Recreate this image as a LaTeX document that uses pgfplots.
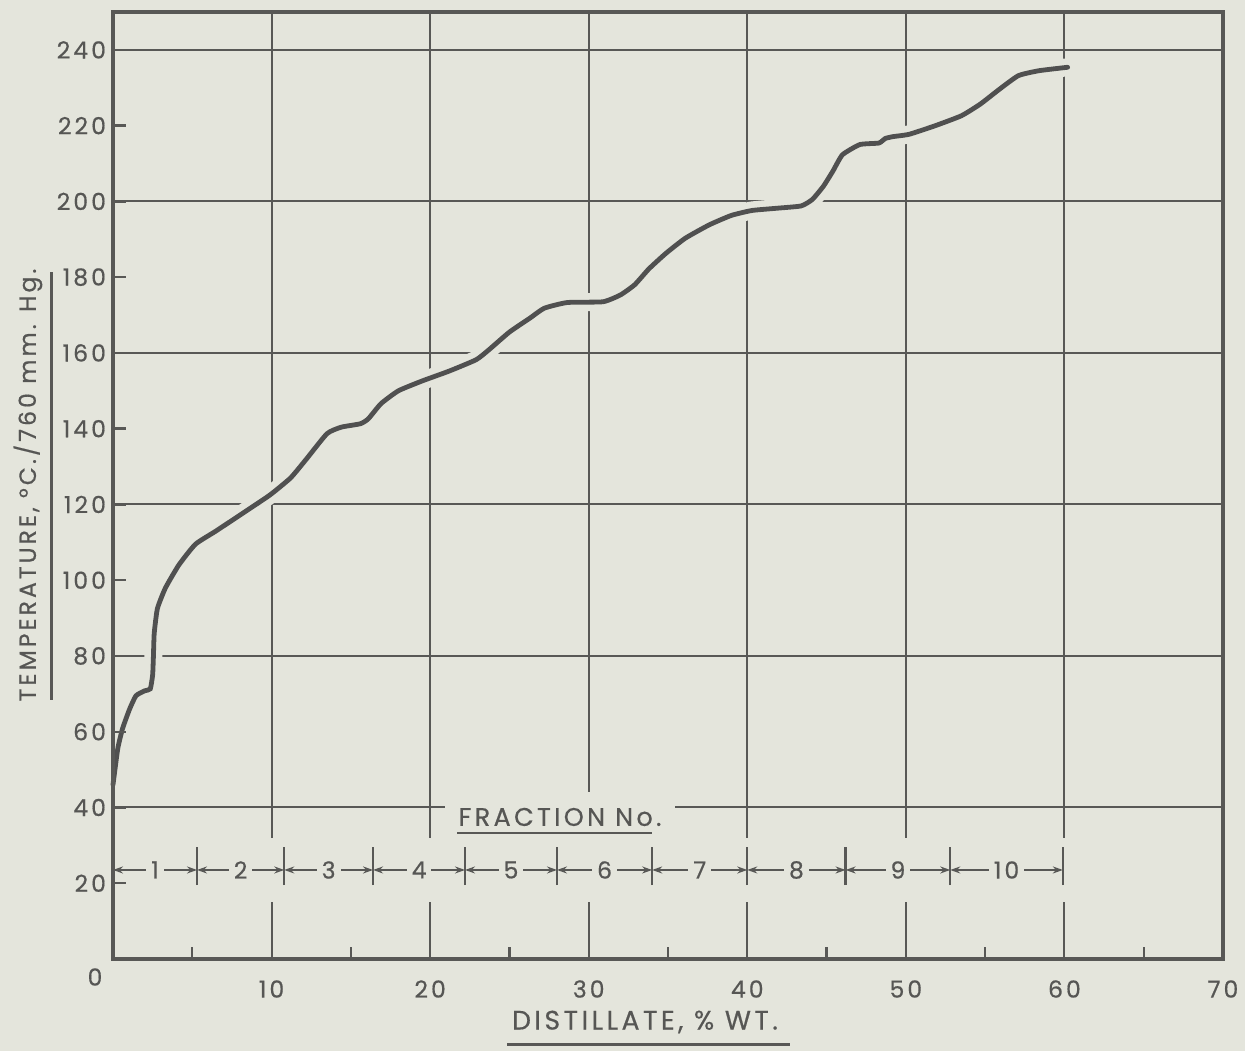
\documentclass[border=0pt]{standalone}
\usepackage{fontspec}
\setmainfont{Poppins}[LetterSpace=13, FakeBold=0.5]
\usepackage{pgfplots}
\usepackage{pgfplotstable}
\pgfplotsset{compat=1.18}
\usetikzlibrary{arrows.meta}
\definecolor{paper}{RGB}{228,229,220}
\definecolor{ink}{RGB}{88,88,86}
\definecolor{curveink}{RGB}{80,80,80}
\definecolor{txt}{RGB}{86,86,84}

\pgfplotstableread{
x y
0 46
0.3 55.5
0.6 60.8
1.05 66
1.45 69.5
2.0 70.8
2.35 71.3
2.5 75
2.55 80
2.6 86
2.8 92.5
3.3 97.9
4.15 104
5.2 109.5
6.5 113
8.3 118
9.9 122.5
11.2 127
12.2 132
13.5 138.7
14.4 140.4
15.6 141.3
16.1 142.6
16.9 146.6
18.0 150
19.5 152.6
21.2 155.2
22.9 158.2
23.7 160.8
25.0 165.5
26.3 169.2
27.2 171.8
28.65 173.3
30.9 173.5
32.0 175.3
32.9 178.0
33.8 182.2
34.9 186.4
36.1 190.3
37.6 193.8
39.0 196.3
40.3 197.6
41.9 198.2
43.4 198.8
44.1 200.5
44.8 204
45.4 208
46.0 212.3
47.1 215
48.3 215.4
48.7 216.6
49.2 217.1
50.2 217.7
51.8 219.9
53.5 222.6
54.7 225.7
55.9 229.6
57.1 233.2
58.4 234.5
60.2 235.4
}\curvedata

\tikzset{
  lab/.style={text=txt, font=\fontsize{11.8}{13}\selectfont},
  arr/.style={ink, line width=1bp, {Stealth[length=5bp,width=3.5bp]}-{Stealth[length=5bp,width=3.5bp]}},
  seg/.style={midway, fill=paper, inner xsep=2.5bp, inner ysep=1bp, lab},
  bnd/.style={ink, line width=1.2bp},
  grd/.style={ink, line width=1bp},
}

\begin{document}
\begin{tikzpicture}[x=1bp,y=1bp]
\fill[paper] (-56.5,-46) rectangle (566,479.5);
\begin{axis}[
  at={(0,0)}, anchor=south west,
  width=555bp, height=473.5bp, scale only axis,
  xmin=0, xmax=70, ymin=0, ymax=250,
  axis on top,
  axis line style={ink, line width=1.8bp},
  xtick={10,20,...,70},
  minor xtick={5,15,...,65},
  ytick={20,40,...,240},
  tick pos=left, tick align=inside,
  major tick length=6.5bp, minor tick length=6bp,
  major x tick style={draw=none},
  tick style={ink, line width=1.2bp},
  tick label style={lab},
  /pgf/number format/assume math mode=true,
  xticklabel style={anchor=center, yshift=-15bp},
  clip=false,
]
% horizontal grid
\pgfplotsinvokeforeach{40,80,120,160,200,240}{
  \addplot[grd, forget plot] coordinates {(0,#1) (70,#1)};
}
% vertical grid with gaps
\pgfplotsinvokeforeach{10,20,40,50,60}{
  \addplot[grd, forget plot] coordinates {(#1,250) (#1,32)};
  \addplot[grd, forget plot] coordinates {(#1,15) (#1,0)};
}
\addplot[grd, forget plot] coordinates {(30,250) (30,44)};
\addplot[grd, forget plot] coordinates {(30,15) (30,0)};

% fraction row
\draw[arr] (axis cs:0,23.5) -- (axis cs:5.3,23.5) node[seg] {1};
\draw[arr] (axis cs:5.3,23.5) -- (axis cs:10.8,23.5) node[seg] {2};
\draw[arr] (axis cs:10.8,23.5) -- (axis cs:16.4,23.5) node[seg] {3};
\draw[arr] (axis cs:16.4,23.5) -- (axis cs:22.2,23.5) node[seg] {4};
\draw[arr] (axis cs:22.2,23.5) -- (axis cs:28.0,23.5) node[seg] {5};
\draw[arr] (axis cs:28.0,23.5) -- (axis cs:34.0,23.5) node[seg] {6};
\draw[arr] (axis cs:34.0,23.5) -- (axis cs:40.0,23.5) node[seg] {7};
\draw[arr] (axis cs:40.0,23.5) -- (axis cs:46.2,23.5) node[seg] {8};
\draw[arr] (axis cs:46.2,23.5) -- (axis cs:52.8,23.5) node[seg] {9};
\draw[arr] (axis cs:52.8,23.5) -- (axis cs:59.9,23.5) node[seg] {10};
\draw[bnd] (axis cs:5.3,19.5) -- (axis cs:5.3,29.5);
\draw[bnd] (axis cs:10.8,19.5) -- (axis cs:10.8,29.5);
\draw[bnd] (axis cs:16.4,19.5) -- (axis cs:16.4,29.5);
\draw[bnd] (axis cs:22.2,19.5) -- (axis cs:22.2,29.5);
\draw[bnd] (axis cs:28.0,19.5) -- (axis cs:28.0,29.5);
\draw[bnd] (axis cs:34.0,19.5) -- (axis cs:34.0,29.5);
\draw[bnd] (axis cs:40.0,19.5) -- (axis cs:40.0,29.5);
\draw[bnd] (axis cs:46.2,19.5) -- (axis cs:46.2,29.5);
\draw[bnd] (axis cs:52.8,19.5) -- (axis cs:52.8,29.5);
\draw[bnd] (axis cs:59.9,19.5) -- (axis cs:59.9,29.5);

% curve with a paper-coloured halo drawn as a preaction
\addplot[draw=curveink, line width=2.4bp, smooth, tension=0.3, line cap=round,
  preaction={draw=paper, line width=9bp}] table {\curvedata};
\end{axis}

\node[lab, rotate=90, inner sep=0] at (-42.5,237) {TEMPERATURE, °C./760 mm. Hg.};
\draw[ink, line width=1.5bp] (-30.5,129.5) -- (-30.5,343.5);
\node[lab, font=\fontsize{13.4}{15}\selectfont, inner sep=0] at (266,-31.5) {DISTILLATE, \% WT.};
\draw[ink, line width=1.5bp] (197,-43) -- (338.5,-43);
\node[lab] at (-9,-9) {0};
\node[lab, font=\fontsize{12.8}{14}\selectfont, fill=paper, inner xsep=7bp, inner ysep=3bp] at (223.5,71) {FRACTION No.};
\draw[ink, line width=1.3bp] (172,63) -- (269.5,63);

\pgfresetboundingbox
\path[use as bounding box] (-56.5,-46) rectangle (566,479.5);
\end{tikzpicture}
\end{document}
